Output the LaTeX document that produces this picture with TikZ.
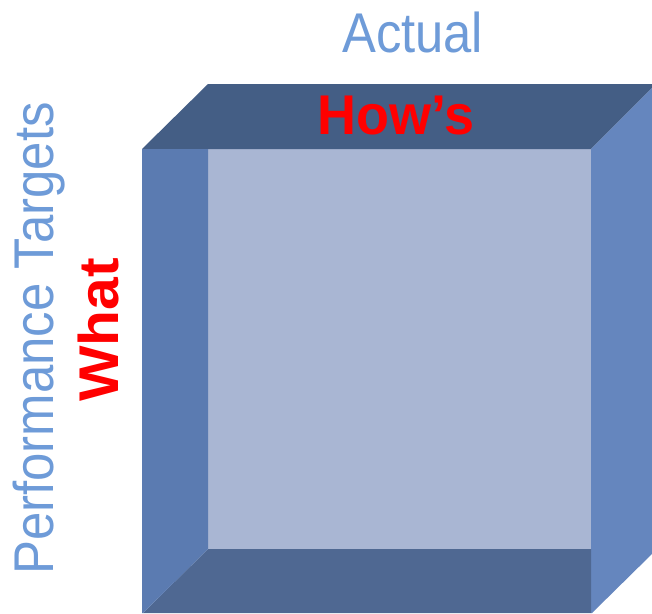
\documentclass[tikz,border=0pt]{standalone}
\usepackage{fontspec}
\setmainfont{Liberation Sans}
\definecolor{topface}{HTML}{445E85}
\definecolor{leftface}{HTML}{5B7BB1}
\definecolor{backface}{HTML}{A9B6D3}
\definecolor{bottomface}{HTML}{4F6892}
\definecolor{rightface}{HTML}{6586BE}
\definecolor{lblue}{HTML}{6E9BD8}
\definecolor{lred}{HTML}{FF0000}
\tikzset{
  face/.style={draw=none},
  bigtxt/.style={inner sep=0pt, font=\fontsize{56}{60}\selectfont},
  redtxt/.style={bigtxt, text=lred, font=\fontsize{56}{60}\selectfont\bfseries},
  bluetxt/.style={bigtxt, text=lblue}
}
\begin{document}
\begin{tikzpicture}[x=1pt,y=-1pt]
\useasboundingbox (0,0) rectangle (652,613);
\clip (0,0) rectangle (652,613);
% faces
\fill[backface] (208,149) rectangle (591,549);
\fill[topface] (142,149) -- (208,84) -- (656,84) -- (591,149) -- cycle;
\fill[rightface] (591,149) -- (656,84) -- (656,550) -- (592,613) -- (591,613) -- cycle;
\fill[bottomface] (143,613) -- (208,549) -- (591,549) -- (591,613) -- cycle;
\fill[leftface] (142,149) -- (208,149) -- (208,549) -- (143,613) -- (142,613) -- cycle;
% texts
\node[bluetxt, anchor=base west, xscale=0.906] (actual) at (342,52) {Actual};
\node[redtxt, anchor=base west, xscale=0.964] (hows) at (317,134) {How’s};
\node[bluetxt, anchor=base west, rotate=90, xscale=0.909] (perf) at (53,575) {Performance Targets};
\node[redtxt, anchor=base west, rotate=90, xscale=1.05] (what) at (118,402) {What};
\end{tikzpicture}
\end{document}
